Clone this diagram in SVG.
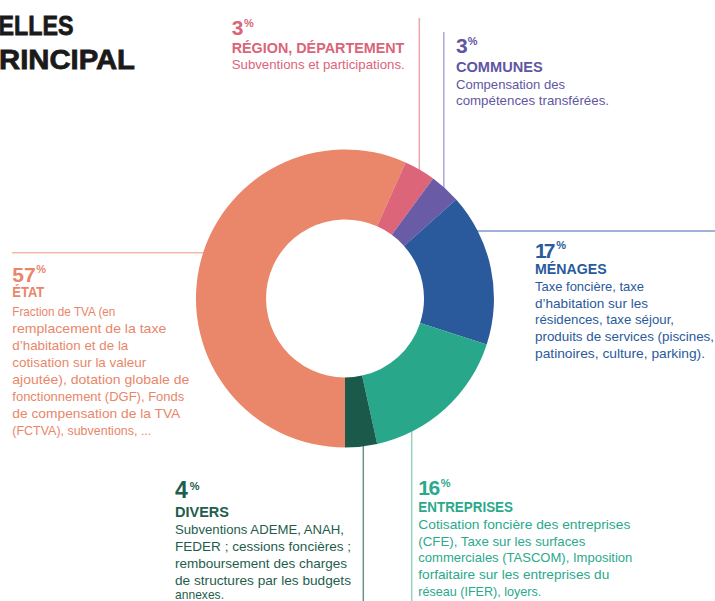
<svg xmlns="http://www.w3.org/2000/svg" width="715" height="601" viewBox="0 0 715 601">
<style>
text{font-family:"Liberation Sans",Arial,sans-serif;}
.title{font-size:28px;font-weight:bold;fill:#1a1a1a;stroke:#1a1a1a;stroke-width:0.8;}
.num{font-size:21px;font-weight:bold;}
.pct{font-size:11px;font-weight:bold;letter-spacing:0;}
.head{font-size:14px;font-weight:bold;}
.body{font-size:13.5px;}
.ln{stroke-width:1.5;fill:none;}
</style>
<rect width="715" height="601" fill="#ffffff"/>
<g id="title">
<text class="title" x="-1.5" y="35" textLength="75" lengthAdjust="spacingAndGlyphs">ELLES</text>
<text class="title" x="-1" y="69" textLength="136" lengthAdjust="spacingAndGlyphs">RINCIPAL</text>
</g>
<g id="connectors">
<line class="ln" x1="419.3" y1="18" x2="419.3" y2="200" stroke="#EBA6B0"/>
<line class="ln" x1="443.8" y1="32" x2="443.8" y2="210" stroke="#ABA6DA"/>
<line class="ln" x1="460" y1="231" x2="715" y2="231" stroke="#7E97C8"/>
<line class="ln" x1="12" y1="252.8" x2="230" y2="252.8" stroke="#F3B9A5"/>
<line class="ln" x1="363.3" y1="420" x2="363.3" y2="601" stroke="#6E9189"/>
<line class="ln" x1="411.7" y1="420" x2="411.7" y2="601" stroke="#93D3C3"/>
</g>
<g id="etat">
<path d="M345 447.5A149 149 0 1 1 405.6 162.4L377.1 226.3A79 79 0 1 0 345 377.5Z" fill="#EA876A"/>
<g fill="#E9866A">
<text class="num" x="12.3" y="281.5">57<tspan class="pct" dx="0.5" dy="-8.5">%</tspan></text>
<text class="head" x="12.3" y="297.2" textLength="32" lengthAdjust="spacingAndGlyphs">ÉTAT</text>
<text class="body" x="12.3" y="315.7" textLength="103" lengthAdjust="spacingAndGlyphs">Fraction de TVA (en</text>
<text class="body" x="12.3" y="332.8" textLength="154" lengthAdjust="spacingAndGlyphs">remplacement de la taxe</text>
<text class="body" x="12.3" y="349.9" textLength="116" lengthAdjust="spacingAndGlyphs">d’habitation et de la</text>
<text class="body" x="12.3" y="367" textLength="134" lengthAdjust="spacingAndGlyphs">cotisation sur la valeur</text>
<text class="body" x="12.3" y="384" textLength="177" lengthAdjust="spacingAndGlyphs">ajoutée), dotation globale de</text>
<text class="body" x="12.3" y="401" textLength="172" lengthAdjust="spacingAndGlyphs">fonctionnement (DGF), Fonds</text>
<text class="body" x="12.3" y="418" textLength="168" lengthAdjust="spacingAndGlyphs">de compensation de la TVA</text>
<text class="body" x="12.3" y="434.8" textLength="139" lengthAdjust="spacingAndGlyphs">(FCTVA), subventions, ...</text>
</g>
</g>
<g id="region">
<path d="M405.6 162.4A149 149 0 0 1 433.2 178.4L391.8 234.8A79 79 0 0 0 377.1 226.3Z" fill="#DC6579"/>
<g fill="#DB6478">
<text class="num" x="231.7" y="34.5">3<tspan class="pct" dx="0.5" dy="-8">%</tspan></text>
<text class="head" x="231.7" y="53.3" textLength="172.7" lengthAdjust="spacingAndGlyphs">RÉGION, DÉPARTEMENT</text>
<text class="body" x="231.7" y="69.3" textLength="173" lengthAdjust="spacingAndGlyphs">Subventions et participations.</text>
</g>
</g>
<g id="communes">
<path d="M433.2 178.4A149 149 0 0 1 456.2 199.4L404 245.9A79 79 0 0 0 391.8 234.8Z" fill="#6A5BA6"/>
<g fill="#5F56A3">
<text class="num" x="456" y="53.3">3<tspan class="pct" dy="-8">%</tspan></text>
<text class="head" x="456" y="71.7" textLength="86.7" lengthAdjust="spacingAndGlyphs">COMMUNES</text>
<text class="body" x="456" y="88.5" textLength="109" lengthAdjust="spacingAndGlyphs">Compensation des</text>
<text class="body" x="456" y="105.3" textLength="153" lengthAdjust="spacingAndGlyphs">compétences transférées.</text>
</g>
</g>
<g id="menages">
<path d="M456.2 199.4A149 149 0 0 1 486.7 344.5L420.1 322.9A79 79 0 0 0 404 245.9Z" fill="#2B5A9C"/>
<g fill="#2A5A9B">
<text class="num" x="535" y="257.7"><tspan letter-spacing="-3">17</tspan><tspan class="pct" dx="4" dy="-8.5">%</tspan></text>
<text class="head" x="535" y="274.3" textLength="71.7" lengthAdjust="spacingAndGlyphs">MÉNAGES</text>
<text class="body" x="535" y="291" textLength="109" lengthAdjust="spacingAndGlyphs">Taxe foncière, taxe</text>
<text class="body" x="535" y="307.7" textLength="113" lengthAdjust="spacingAndGlyphs">d’habitation sur les</text>
<text class="body" x="535" y="324.3" textLength="139" lengthAdjust="spacingAndGlyphs">résidences, taxe séjour,</text>
<text class="body" x="535" y="341" textLength="179" lengthAdjust="spacingAndGlyphs">produits de services (piscines,</text>
<text class="body" x="535" y="357.7" textLength="170" lengthAdjust="spacingAndGlyphs">patinoires, culture, parking).</text>
</g>
</g>
<g id="entreprises">
<path d="M486.7 344.5A149 149 0 0 1 377.2 444L362.1 375.6A79 79 0 0 0 420.1 322.9Z" fill="#28A78B"/>
<g fill="#2AA98B">
<text class="num" x="418.3" y="495"><tspan letter-spacing="-1.5">16</tspan><tspan class="pct" dx="2" dy="-8.5">%</tspan></text>
<text class="head" x="418.3" y="511.7" textLength="94.7" lengthAdjust="spacingAndGlyphs">ENTREPRISES</text>
<text class="body" x="418.3" y="529" textLength="212" lengthAdjust="spacingAndGlyphs">Cotisation foncière des entreprises</text>
<text class="body" x="418.3" y="545.7" textLength="167" lengthAdjust="spacingAndGlyphs">(CFE), Taxe sur les surfaces</text>
<text class="body" x="418.3" y="562.3" textLength="214" lengthAdjust="spacingAndGlyphs">commerciales (TASCOM), Imposition</text>
<text class="body" x="418.3" y="579" textLength="191" lengthAdjust="spacingAndGlyphs">forfaitaire sur les entreprises du</text>
<text class="body" x="418.3" y="595.7" textLength="123" lengthAdjust="spacingAndGlyphs">réseau (IFER), loyers.</text>
</g>
</g>
<g id="divers">
<path d="M377.2 444A149 149 0 0 1 345 447.5L345 377.5A79 79 0 0 0 362.1 375.6Z" fill="#1B5A4B"/>
<g fill="#1F5D4D">
<text class="num" x="175" y="498.3" style="font-size:23px">4<tspan class="pct" dx="2" dy="-8.5">%</tspan></text>
<text class="head" x="175" y="516.7" textLength="54" lengthAdjust="spacingAndGlyphs">DIVERS</text>
<text class="body" x="175" y="534.3" textLength="169" lengthAdjust="spacingAndGlyphs">Subventions ADEME, ANAH,</text>
<text class="body" x="175" y="551" textLength="176" lengthAdjust="spacingAndGlyphs">FEDER ;  cessions foncières ;</text>
<text class="body" x="175" y="568" textLength="172" lengthAdjust="spacingAndGlyphs">remboursement des charges</text>
<text class="body" x="175" y="584.7" textLength="176" lengthAdjust="spacingAndGlyphs">de structures par les budgets</text>
<text class="body" x="175" y="599" textLength="49" lengthAdjust="spacingAndGlyphs">annexes.</text>
</g>
</g>
</svg>
